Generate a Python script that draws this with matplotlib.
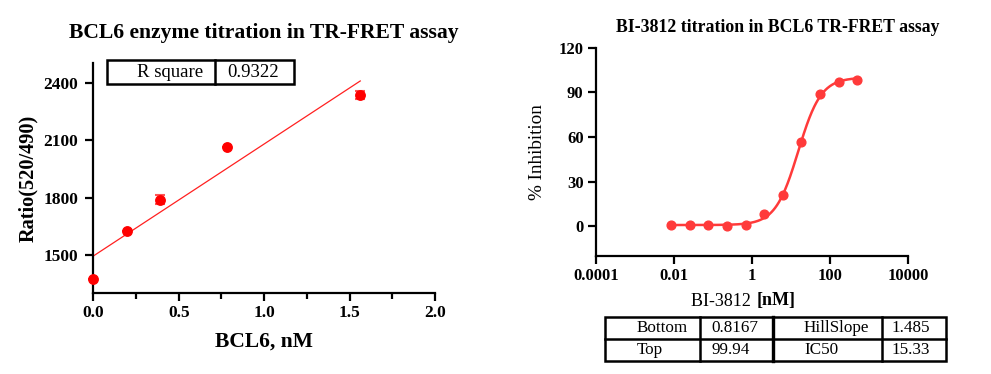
import numpy as np
import matplotlib
matplotlib.use("Agg")
import matplotlib.pyplot as plt
from matplotlib.patches import Rectangle
from matplotlib.lines import Line2D

# ---------------- data ----------------
bcl6_conc = [0.0, 0.195, 0.39, 0.78, 1.5625]
ratio = [1372, 1623, 1789, 2065, 2337]
ratio_err = [0, 0, 25, 0, 20]
r_square_label = "R square"
r_square_value = "0.9322"

bi_conc = [0.00847, 0.0254, 0.0762, 0.229, 0.686, 2.06, 6.17, 18.5, 55.6, 167, 500]
inhibition = [0.7, 0.9, 0.7, 0.0, 0.7, 8.5, 20.8, 56.4, 88.6, 97.1, 98.2]
fit_bottom = 0.8167
fit_top = 99.94
fit_hill = 1.485
fit_ic50 = 15.33
fit_table = [["Bottom", "0.8167", "HillSlope", "1.485"],
             ["Top", "99.94", "IC50", "15.33"]]

left_yticks = [1500, 1800, 2100, 2400]
left_xticks = [0.0, 0.5, 1.0, 1.5, 2.0]
right_yticks = [0, 30, 60, 90, 120]
right_xticks = [1e-4, 1e-2, 1, 1e2, 1e4]
right_xticklabels = ["0.0001", "0.01", "1", "100", "10000"]

SERIF = "Liberation Serif"
W, H = 991, 374
fig = plt.figure(figsize=(W / 100, H / 100), dpi=100)

def fr(x0, y0, x1, y1):
    return [x0 / W, 1 - y1 / H, (x1 - x0) / W, (y1 - y0) / H]

# ---------------- left chart ----------------
ax1 = fig.add_axes(fr(93.3, 63.3, 435, 292.7))
ax1.set_xlim(0, 2.0)
ax1.set_ylim(1300, 2505)
x = np.array(bcl6_conc)
y = np.array(ratio)
slope, intercept = np.polyfit(x, y, 1)
xf = np.array([0, x.max()])
ax1.plot(xf, intercept + slope * xf, color="#FF2020", lw=0.9, zorder=2)
ax1.errorbar(bcl6_conc, ratio, yerr=ratio_err, fmt="o", color="#FF0000",
             ms=6.8, ecolor="#FF5555", elinewidth=1.5, capsize=3.5, capthick=1.5,
             clip_on=False, zorder=3)
ax1.set_xticks(left_xticks)
ax1.set_xticks([0.25, 0.75, 1.25, 1.75], minor=True)
ax1.set_yticks(left_yticks)
ax1.set_xticklabels(["0.0", "0.5", "1.0", "1.5", "2.0"])
for s in ["top", "right"]:
    ax1.spines[s].set_visible(False)
for s in ["left", "bottom"]:
    ax1.spines[s].set_linewidth(1.6)
ax1.tick_params(axis="both", which="major", direction="out", length=6, width=1.6,
                labelsize=12.5, pad=3)
ax1.tick_params(axis="x", which="minor", direction="out", length=4.5, width=1.6)
ax1.tick_params(axis="y", pad=5)
for lab in ax1.get_xticklabels() + ax1.get_yticklabels():
    lab.set_fontfamily(SERIF)
    lab.set_fontweight("bold")

# ---------------- right chart ----------------
ax2 = fig.add_axes(fr(596, 47.7, 908, 256))
ax2.set_xscale("log")
ax2.set_xlim(1e-4, 1e4)
ax2.set_ylim(-20, 120)
xc = np.logspace(np.log10(min(bi_conc)), np.log10(max(bi_conc)), 300)
yc = fit_bottom + (fit_top - fit_bottom) / (1 + (fit_ic50 / xc) ** fit_hill)
rc = "#FF3A3A"
ax2.plot(xc, yc, color=rc, lw=1.8, zorder=2)
ax2.plot(bi_conc, inhibition, "o", color=rc, ms=6.3, zorder=3, clip_on=False)
ax2.set_xticks(right_xticks)
ax2.set_xticklabels(right_xticklabels)
ax2.xaxis.set_minor_locator(matplotlib.ticker.NullLocator())
ax2.set_yticks(right_yticks)
for s in ["top", "right"]:
    ax2.spines[s].set_visible(False)
for s in ["left", "bottom"]:
    ax2.spines[s].set_linewidth(1.6)
ax2.tick_params(axis="both", which="major", direction="out", length=6, width=1.6,
                labelsize=12, pad=3)
ax2.tick_params(axis="y", pad=3)
for lab in ax2.get_xticklabels() + ax2.get_yticklabels():
    lab.set_fontfamily(SERIF)
    lab.set_fontweight("bold")

# ---------------- overlay for texts and tables ----------------
ov = fig.add_axes([0, 0, 1, 1])
ov.set_xlim(0, W)
ov.set_ylim(H, 0)
ov.axis("off")
ov.patch.set_visible(False)

ov.text(264, 33, "BCL6 enzyme titration in TR-FRET assay", fontsize=15.6,
        fontweight="bold", family=SERIF, ha="center", va="center")
ov.text(264, 342, "BCL6, nM", fontsize=15.5, fontweight="bold", family=SERIF,
        ha="center", va="center")
ov.text(28, 178, "Ratio(520/490)", fontsize=14.7, fontweight="bold", family=SERIF,
        ha="center", va="center", rotation=90)

ov.text(778, 27, "BI-3812 titration in BCL6 TR-FRET assay", fontsize=12.8,
        fontweight="bold", family=SERIF, ha="center", va="center")
ov.text(538, 152, "% Inhibition", fontsize=13.8, family=SERIF,
        ha="center", va="center", rotation=90)
ov.text(755, 301, "BI-3812 ", fontsize=13, family=SERIF, ha="right", va="center")
ov.text(757, 301, "[nM]", fontsize=13, fontweight="bold", family=SERIF,
        ha="left", va="center")


def draw_table(rows, xs, y0, y1, pads, lw=1.8, fs=12, thick=None):
    nrows = len(rows)
    ys = np.linspace(y0, y1, nrows + 1)
    ov.add_patch(Rectangle((xs[0], y0), xs[-1] - xs[0], y1 - y0, fill=False,
                           lw=lw, ec="black"))
    for k, xv in enumerate(xs[1:-1], start=1):
        w = lw * 1.35 if thick is not None and k == thick else lw
        ov.add_line(Line2D([xv, xv], [y0, y1], lw=w, color="black"))
    for yv in ys[1:-1]:
        ov.add_line(Line2D([xs[0], xs[-1]], [yv, yv], lw=lw, color="black"))
    for i, row in enumerate(rows):
        yc_ = (ys[i] + ys[i + 1]) / 2
        for j, txt in enumerate(row):
            ov.text(xs[j] + pads[j], yc_ + 0.5, txt, fontsize=fs, family=SERIF,
                    ha="left", va="center")


draw_table([[r_square_label, r_square_value]], [107, 215, 294], 60, 84, [30, 12],
           fs=13.5)
draw_table(fit_table, [605, 700, 773, 882, 946], 317, 361, [32, 11, 31, 10],
           fs=12.3, thick=2)

fig.savefig("out.png", dpi=100)
